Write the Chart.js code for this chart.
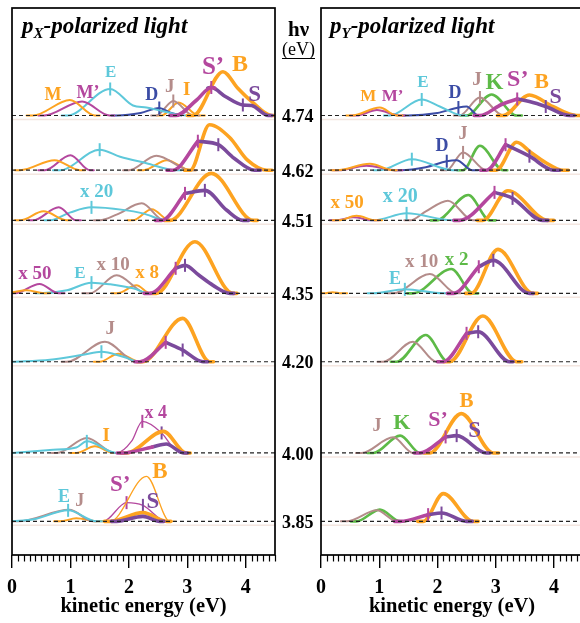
<!DOCTYPE html>
<html>
  <head>
    <title>Photoelectron spectra</title>
    <meta charset="UTF-8">
    <script src="https://cdn.jsdelivr.net/npm/chart.js@4.4.1/dist/chart.umd.min.js"></script>
    <style type="text/css">
      body { margin: 0; width: 580px; height: 623px; overflow: hidden; position: relative; background: #fff; }
      canvas { position: absolute; top: 0; }
      .ttl { position: absolute; top: 14px; font: italic bold 23px "Liberation Serif"; line-height: 23px; white-space: nowrap; }
      .ttl sub { font-size: 15px; vertical-align: baseline; position: relative; top: 5px; }
      .hv { position: absolute; left: 282px; top: 19px; width: 33px; text-align: center; font-family: "Liberation Serif"; }
    </style>
  </head>
  <body>
    <canvas id="px" width="320" height="623" style="left:0"></canvas>
    <canvas id="py" width="276" height="623" style="left:309px"></canvas>
    <div class="ttl" style="left:22px"><i>p</i><sub>X</sub>-polarized light</div>
    <div class="ttl" style="left:330px"><i>p</i><sub>Y</sub>-polarized light</div>
    <div class="hv">
      <div style="font-weight:bold; font-size:21px; line-height:21px">hν</div>
      <div style="font-size:18px; line-height:18px; border-bottom:1.5px solid #000">(eV)</div>
    </div>

    <script type="text/javascript">
      // photon energies (eV), one spectrum each
      const hv = [4.74, 4.62, 4.51, 4.35, 4.20, 4.00, 3.85];
      const keTicks = [0, 1, 2, 3, 4];

      // spectra: [hv, [[kinetic energy, intensity, tick mark?], ...]]
      // p_X panel
      const pxM = [
        [4.74, [[0.25,0],[0.36,0],[0.99,15.5],[1.42,0],[1.5,0]]],
        [4.62, [[0.05,0],[0.14,0],[0.73,10],[1.16,0],[1.25,0]]],
        [4.51, [[0.05,0],[0.14,0],[0.54,9],[0.94,0],[1.0,0]]],
        [4.35, [[0,1],[0.25,3],[0.55,0],[0.65,0]]]
      ];
      const pxM1 = [
        [4.74, [[0.45,0],[0.55,0],[1.2,14],[1.67,0],[1.75,0]]],
        [4.62, [[0.45,0],[0.56,0],[1.0,15],[1.33,0],[1.4,0]]],
        [4.51, [[0.28,0],[0.36,0],[0.8,13],[1.1,0],[1.18,0]]],
        [4.35, [[0,0],[0.05,0],[0.47,9.3],[0.8,0],[0.9,0]]]
      ];
      const pxE = [
        [4.74, [[0.85,0],[0.95,0],[1.68,26.5,1],[2.07,10],[2.3,8],[2.6,4],[3.0,0],[3.1,0]]],
        [4.62, [[0.7,0],[0.82,0],[1.5,20.5,1],[1.85,13.5],[2.3,7],[2.8,0],[2.9,0]]],
        [4.51, [[0.55,0],[0.65,0],[1.0,8],[1.36,13,1],[1.9,10.5],[2.24,7],[2.65,0],[2.75,0]]],
        [4.35, [[0.4,0],[0.48,0],[0.94,3],[1.36,10.7,1],[1.68,9],[2.07,5],[2.36,0],[2.45,0]]],
        [4.20, [[0,0],[0.65,2],[1.22,7],[1.53,10,1],[1.9,5],[2.19,0],[2.3,0]]],
        [4.00, [[0,0],[0.65,3],[1.1,5.5],[1.28,11.6,1],[1.79,0],[1.85,0]]],
        [3.85, [[0,0],[0.37,2],[0.96,11,1],[1.45,0],[1.55,0]]]
      ];
      const pxD = [
        [4.74, [[1.7,0],[1.8,0],[2.2,2.5],[2.52,7.5,1],[2.7,3],[2.9,0]]]
      ];
      const pxJ = [
        [4.74, [[2.38,0],[2.47,0],[2.76,14.5,1],[3.1,0],[3.2,0]]],
        [4.62, [[1.9,0],[2.0,0],[2.47,14.5],[3.05,0],[3.15,0]]],
        [4.51, [[1.4,0],[1.5,0],[1.8,6],[2.22,17],[2.6,0],[2.7,0]]],
        [4.35, [[1.2,0],[1.33,0],[1.79,18],[2.3,0],[2.4,0]]],
        [4.20, [[0.85,0],[0.94,0],[1.59,20],[2.13,0],[2.2,0]]],
        [4.00, [[0.68,0],[0.77,0],[1.28,15],[1.76,0],[1.85,0]]],
        [3.85, [[0,0],[0.1,0],[0.98,11.5],[1.39,0],[1.45,0]]]
      ];
      const pxI = [
        [4.74, [[2.48,0],[2.56,0],[2.85,13],[3.2,0],[3.3,0]]],
        [4.62, [[2.15,0],[2.25,0],[2.65,10],[3.05,0],[3.15,0]]],
        [4.51, [[1.98,0],[2.07,0],[2.39,11],[2.7,0],[2.8,0]]],
        [4.35, [[1.7,0],[1.8,0],[2.13,8],[2.36,0],[2.45,0]]],
        [4.20, [[1.4,0],[1.5,0],[1.82,8],[2.19,0],[2.3,0]]],
        [4.00, [[1.0,0],[1.1,0],[1.42,6.6],[1.73,0],[1.8,0]]],
        [3.85, [[0.72,0],[0.82,0],[1.1,3],[1.45,0],[1.55,0]]]
      ];
      const pxS1 = [
        [4.74, [[2.7,0],[2.8,0],[3.16,15.5],[3.41,28,1],[3.47,27.5]]],
        [4.62, [[2.65,0],[2.75,0],[3.18,29,1]]],
        [4.51, [[2.45,0],[2.56,0],[2.96,27,1]]],
        [4.35, [[2.26,0],[2.36,0],[2.8,25,1]]],
        [4.20, [[2.1,0],[2.19,0],[2.63,19.4,1]]],
        [4.00, [[1.8,0],[1.9,0],[2.4,6]]]
      ];
      const pxS = [
        [4.74, [[3.35,27.5],[3.41,28],[3.65,19],[3.95,10.5,1],[4.1,10],[4.38,0],[4.45,0]]],
        [4.62, [[3.18,29],[3.53,25.5,1],[3.8,12],[4.15,0],[4.25,0]]],
        [4.51, [[2.96,27],[3.3,30,1],[3.67,10.4],[3.95,0],[4.05,0]]],
        [4.35, [[2.8,25],[2.96,28,1],[3.2,18],[3.44,8],[3.73,0],[3.8,0]]],
        [4.20, [[2.63,19.4],[2.92,11.7,1],[3.27,0],[3.35,0]]],
        [4.00, [[2.4,6],[2.64,9],[2.93,0],[3.0,0]]],
        [3.85, [[1.7,0],[1.79,0],[2.24,5],[2.53,0],[2.6,0]]]
      ];
      const pxB = [
        [4.74, [[3.0,0],[3.1,0],[3.61,43.8],[3.86,27.5],[4.1,14],[4.44,0],[4.5,0]]],
        [4.62, [[2.95,0],[3.05,0],[3.38,45.5],[3.72,33],[4.03,10],[4.36,0],[4.45,0]]],
        [4.51, [[2.6,0],[2.7,0],[3.41,47],[4.13,0],[4.2,0]]],
        [4.35, [[2.37,0],[2.47,0],[3.13,51.6],[3.78,0],[3.85,0]]],
        [4.20, [[2.14,0],[2.24,0],[2.92,43.4],[3.38,0],[3.45,0]]],
        [4.00, [[1.86,0],[1.96,0],[2.59,21.6],[2.98,0],[3.05,0]]],
        [3.85, [[1.58,0],[1.68,0],[2.24,8.7],[2.65,0],[2.72,0]]]
      ];
      // scaled-up copies (x 4, full B at 3.85)
      const pxS1x = [
        [4.00, [[1.7,0],[1.79,0],[2.05,12],[2.23,31.6,1],[2.56,20,'S'],[2.75,6],[2.9,0],[2.97,0]]],
        [3.85, [[1.46,0],[1.56,0],[1.96,18.7,1],[2.24,16,'S'],[2.64,0],[2.7,0]]]
      ];
      const pxBx = [
        [3.85, [[1.58,0],[1.68,0],[2.3,45],[2.7,0],[2.8,0]]]
      ];

      // p_Y panel
      const pyM = [
        [4.74, [[0.43,0],[0.53,0],[1.01,8],[1.3,0],[1.4,0]]],
        [4.62, [[0.17,0],[0.27,0],[0.84,6.5],[1.24,0],[1.3,0]]],
        [4.51, [[0.2,0],[0.3,0],[0.61,4.5],[0.95,0],[1.05,0]]],
        [4.35, [[0,0],[0.05,0],[0.2,1.2],[0.35,0],[0.45,0]]]
      ];
      const pyM1 = [
        [4.74, [[0.5,0],[0.61,0],[0.96,5.5],[1.35,0],[1.45,0]]],
        [4.62, [[0.2,0],[0.3,0],[0.78,4.5],[1.3,0],[1.4,0]]],
        [4.51, [[0.15,0],[0.25,0],[0.55,3],[0.9,0],[1.0,0]]]
      ];
      const pyE = [
        [4.74, [[1.08,0],[1.18,0],[1.73,16,1],[2.04,9],[2.44,0],[2.5,0]]],
        [4.62, [[0.9,0],[1.01,0],[1.56,11,1],[2.27,0],[2.35,0]]],
        [4.51, [[0.8,0],[0.9,0],[1.47,7,1],[2.27,0],[2.35,0]]],
        [4.35, [[0.8,0],[0.9,0],[1.44,4,1],[2.1,0],[2.2,0]]]
      ];
      const pyD = [
        [4.74, [[1.4,0],[1.5,0],[2.0,2.5],[2.36,8,1],[2.5,9],[2.7,0],[2.8,0]]],
        [4.62, [[1.26,0],[1.36,0],[1.8,3],[2.16,9,1],[2.33,10],[2.6,0],[2.7,0]]]
      ];
      const pyJ = [
        [4.74, [[2.28,0],[2.38,0],[2.73,18,1],[3.13,0],[3.2,0]]],
        [4.62, [[2.06,0],[2.16,0],[2.44,17.8,1],[2.84,0],[2.9,0]]],
        [4.51, [[1.43,0],[1.53,0],[1.8,9],[2.18,19.7],[2.61,0],[2.7,0]]],
        [4.35, [[1.14,0],[1.24,0],[1.87,19.3],[2.33,0],[2.4,0]]],
        [4.20, [[0.97,0],[1.07,0],[1.58,20],[1.98,0],[2.05,0]]],
        [4.00, [[0.6,0],[0.7,0],[1.24,15.6],[1.58,0],[1.65,0]]],
        [3.85, [[0.34,0],[0.44,0],[0.96,11],[1.3,0],[1.38,0]]]
      ];
      const pyK = [
        [4.74, [[2.4,0],[2.5,0],[2.93,21],[3.36,0],[3.45,0]]],
        [4.62, [[2.34,0],[2.44,0],[2.73,24.5],[3.13,0],[3.2,0]]],
        [4.51, [[1.88,0],[1.98,0],[2.53,25.3],[2.9,0],[3.0,0]]],
        [4.35, [[1.48,0],[1.58,0],[2.24,24.3],[2.61,0],[2.7,0]]],
        [4.20, [[1.2,0],[1.3,0],[1.8,26.7],[2.18,0],[2.25,0]]],
        [4.00, [[0.8,0],[0.9,0],[1.36,17.3],[1.7,0],[1.8,0]]],
        [3.85, [[0.51,0],[0.61,0],[1.01,11.7],[1.36,0],[1.45,0]]]
      ];
      const pyS1 = [
        [4.74, [[2.63,0],[2.73,0],[3.1,11],[3.37,16.5,1]]],
        [4.62, [[2.74,0],[2.84,0],[3.17,25.5,1]]],
        [4.51, [[2.28,0],[2.38,0],[2.98,28,1]]],
        [4.35, [[2.17,0],[2.27,0],[2.71,26.6,1]]],
        [4.20, [[2.0,0],[2.1,0],[2.5,28.4,1]]],
        [4.00, [[1.6,0],[1.7,0],[2.14,16,1]]],
        [3.85, [[1.26,0],[1.36,0],[1.84,6.7,1]]]
      ];
      const pyS = [
        [4.74, [[3.37,16.5],[3.58,14],[3.86,9,1],[4.27,0],[4.35,0]]],
        [4.62, [[3.17,25.5],[3.58,14,1],[4.0,0],[4.1,0]]],
        [4.51, [[2.98,28],[3.29,22,1],[3.81,0],[3.9,0]]],
        [4.35, [[2.71,26.6],[2.96,33,1],[3.58,0],[3.65,0]]],
        [4.20, [[2.5,28.4],[2.7,30,1],[3.24,0],[3.3,0]]],
        [4.00, [[2.14,16],[2.33,17.3,1],[2.84,0],[2.9,0]]],
        [3.85, [[1.84,6.7],[2.07,8.3,1],[2.5,0],[2.6,0]]]
      ];
      const pyB = [
        [4.74, [[3.03,0],[3.13,0],[3.58,20.5],[3.98,9],[4.39,0],[4.45,0]]],
        [4.62, [[2.91,0],[3.01,0],[3.36,28],[3.6,18],[3.85,8],[4.16,0],[4.25,0]]],
        [4.51, [[2.68,0],[2.78,0],[3.21,29.6],[3.9,0],[4.0,0]]],
        [4.35, [[2.48,0],[2.58,0],[3.04,44],[3.64,0],[3.72,0]]],
        [4.20, [[2.11,0],[2.21,0],[2.78,45.7],[3.36,0],[3.45,0]]],
        [4.00, [[1.77,0],[1.87,0],[2.41,39.3],[2.96,0],[3.05,0]]],
        [3.85, [[1.66,0],[1.76,0],[2.1,27.7],[2.61,0],[2.7,0]]]
      ];

      // peak labels: [hv, kinetic energy, height, text, colour, font size]
      const pxNotes = [
        [4.74,0.70,20.5,'M','or',18], [4.74,1.30,22.5,'M’','mg',18], [4.74,1.69,42.5,'E','cy',17],
        [4.74,2.39,20.5,'D','bl',18], [4.74,2.70,28.5,'J','ma',19], [4.74,2.99,25.5,'I','or',19],
        [4.74,3.44,47.5,'S’','mg',25], [4.74,3.90,50.5,'B','or',24], [4.74,4.15,20.5,'S','pu',23],
        [4.51,1.45,28.4,'x 20','cy',19],
        [4.35,0.39,19.3,'x 50','mg',19], [4.35,1.16,19.3,'E','cy',17], [4.35,1.73,28.3,'x 10','ma',19],
        [4.35,2.31,20.3,'x 8','or',19],
        [4.20,1.68,32.7,'J','ma',19],
        [4.00,2.46,40,'x 4','mg',18], [4.00,1.61,17,'I','or',19],
        [3.85,0.89,24.3,'E','cy',18], [3.85,1.16,20.3,'J','ma',18], [3.85,1.85,36.3,'S’','mg',23],
        [3.85,2.53,49.3,'B','or',23], [3.85,2.41,19.3,'S','pu',23]
      ];
      const pyNotes = [
        [4.74,0.81,18.5,'M','or',17], [4.74,1.23,18.5,'M’','mg',17], [4.74,1.75,32.5,'E','cy',17],
        [4.74,2.30,22.5,'D','bl',18], [4.74,2.68,35.5,'J','ma',19], [4.74,2.98,32.5,'K','gr',23],
        [4.74,3.38,35.5,'S’','mg',24], [4.74,3.79,33.5,'B','or',22], [4.74,4.03,18.5,'S','pu',22],
        [4.62,2.44,36,'J','ma',18], [4.62,2.08,23.5,'D','bl',18],
        [4.51,0.45,17.4,'x 50','or',19], [4.51,1.36,23.4,'x 20','cy',20],
        [4.35,1.73,31.3,'x 10','ma',19], [4.35,2.33,33.3,'x 2','gr',19], [4.35,1.27,14.3,'E','cy',18],
        [4.00,0.96,27,'J','ma',18], [4.00,1.39,30,'K','gr',22], [4.00,2.01,33,'S’','mg',22],
        [4.00,2.50,51,'B','or',21], [4.00,2.64,22,'S','pu',23]
      ];

      const col = {
        or: '#fda321', mg: '#b4479e', pu: '#7b4a9c', cy: '#5ec8da',
        ma: '#b48c8a', bl: '#3b4ca5', gr: '#5dba47'
      };
      const serif = '"Liberation Serif", "Times New Roman", serif';
      const amp = 1 / 456;      // intensity units -> eV on the hv axis
      const yMin = 3.7762, yMax = 4.9757;

      function curves(list, c, w, order) {
        return list.map(([e, pts]) => ({
          data: pts.map(p => ({ x: p[0], y: e + p[1] * amp, m: p[2] })),
          borderColor: col[c],
          borderWidth: w,
          cubicInterpolationMode: 'monotone',
          borderCapStyle: 'round',
          borderJoinStyle: 'round',
          order: order,
          pointStyle: 'line',
          pointRotation: 90,
          pointBorderWidth: 2,
          pointRadius: ctx => (ctx.raw && ctx.raw.m) ? 6.5 : 0,
          pointBorderColor: ctx => (ctx.raw && ctx.raw.m === 'S') ? col.pu : col[c],
          pointHoverRadius: 0
        }));
      }

      function baselines() {
        const out = [];
        hv.forEach(e => {
          out.push({ data: [{x: 0, y: e - 4 * amp}, {x: 4.5, y: e - 4 * amp}],
                     borderColor: '#f4e6e0', borderWidth: 1.5, pointRadius: 0, order: 5 });
          out.push({ data: [{x: 0, y: e}, {x: 4.5, y: e}],
                     borderColor: '#222', borderWidth: 1.2, borderDash: [4, 3], pointRadius: 0, order: -1 });
        });
        return out;
      }

      const decor = {
        id: 'decor',
        afterDatasetsDraw(chart, args, opts) {
          const ctx = chart.ctx, xs = chart.scales.x, ys = chart.scales.y;
          ctx.save();
          ctx.textAlign = 'center';
          ctx.textBaseline = 'middle';
          opts.notes.forEach(([e, ke, h, txt, c, size]) => {
            ctx.font = 'bold ' + size + 'px ' + serif;
            ctx.fillStyle = col[c];
            ctx.fillText(txt, xs.getPixelForValue(ke), ys.getPixelForValue(e + h * amp));
          });
          ctx.restore();
        },
        afterDraw(chart) {
          const ctx = chart.ctx, a = chart.chartArea, xs = chart.scales.x;
          ctx.save();
          ctx.strokeStyle = '#000';
          ctx.lineWidth = 1.2;
          for (let i = 0; i <= 45; i++) {
            if (i % 10 === 0) continue;
            const x = Math.round(xs.getPixelForValue(i / 10)) + 0.5;
            ctx.beginPath();
            ctx.moveTo(x, a.bottom);
            ctx.lineTo(x, a.bottom + 6.5);
            ctx.stroke();
          }
          ctx.lineWidth = 1.7;
          ctx.strokeRect(a.left, a.top, a.right - a.left, a.bottom - a.top);
          ctx.restore();
        }
      };

      function panel(id, sets, notes, showHv, padL, padR) {
        return new Chart(document.getElementById(id), {
          type: 'line',
          data: { datasets: baselines().concat(sets) },
          plugins: [decor],
          options: {
            responsive: false,
            animation: false,
            events: [],
            layout: { autoPadding: false, padding: { left: padL, right: padR, top: 8, bottom: 0 } },
            plugins: { legend: { display: false }, tooltip: { enabled: false }, decor: { notes: notes } },
            scales: {
              x: {
                type: 'linear', min: 0, max: 4.5,
                afterBuildTicks: s => { s.ticks = keTicks.map(v => ({ value: v })); },
                afterFit: s => { s.height = 68; s.paddingLeft = 0; s.paddingRight = 0; },
                grid: { drawOnChartArea: false, tickLength: 13, color: '#000', lineWidth: 1.4 },
                border: { display: false },
                ticks: { color: '#000', padding: 8, maxRotation: 0,
                         font: { family: serif, size: 20, weight: 'bold' } },
                title: { display: true, text: 'kinetic energy (eV)', color: '#000',
                         font: { family: serif, size: 20.5, weight: 'bold' },
                         padding: { top: 0, bottom: 4 } }
              },
              y: {
                type: 'linear', min: yMin, max: yMax, position: 'right', display: showHv,
                afterBuildTicks: s => { s.ticks = hv.map(v => ({ value: v })); },
                afterFit: s => {
                  s.width = showHv ? 45 : 0;
                  s.paddingTop = 0;
                  s.paddingBottom = 0;
                },
                grid: { display: false, drawTicks: false },
                border: { display: false },
                ticks: { color: '#000', padding: 7, labelOffset: 2,
                         callback: v => Number(v).toFixed(2),
                         font: { family: serif, size: 18, weight: 'bold' } }
              }
            }
          }
        });
      }

      const thin = 2, thick = 3.6;
      panel('px', [].concat(
        curves(pxM, 'or', thin, 2), curves(pxM1, 'mg', thin, 2), curves(pxE, 'cy', thin, 2),
        curves(pxD, 'bl', thin, 2), curves(pxJ, 'ma', thin, 2), curves(pxI, 'or', thin, 2),
        curves(pxBx, 'or', 1.3, 2), curves(pxS1x, 'mg', 1.3, 2),
        curves(pxB, 'or', thick, 1), curves(pxS1, 'mg', thick, 0), curves(pxS, 'pu', thick, 0)
      ), pxNotes, true, 12, 0);

      panel('py', [].concat(
        curves(pyM, 'or', thin, 2), curves(pyM1, 'mg', thin, 2), curves(pyE, 'cy', thin, 2),
        curves(pyD, 'bl', thin, 2), curves(pyJ, 'ma', thin, 2), curves(pyK, 'gr', 2.6, 2),
        curves(pyB, 'or', thick, 1), curves(pyS1, 'mg', thick, 0), curves(pyS, 'pu', thick, 0)
      ), pyNotes, false, 12, 2);
    </script>
  </body>
</html>
